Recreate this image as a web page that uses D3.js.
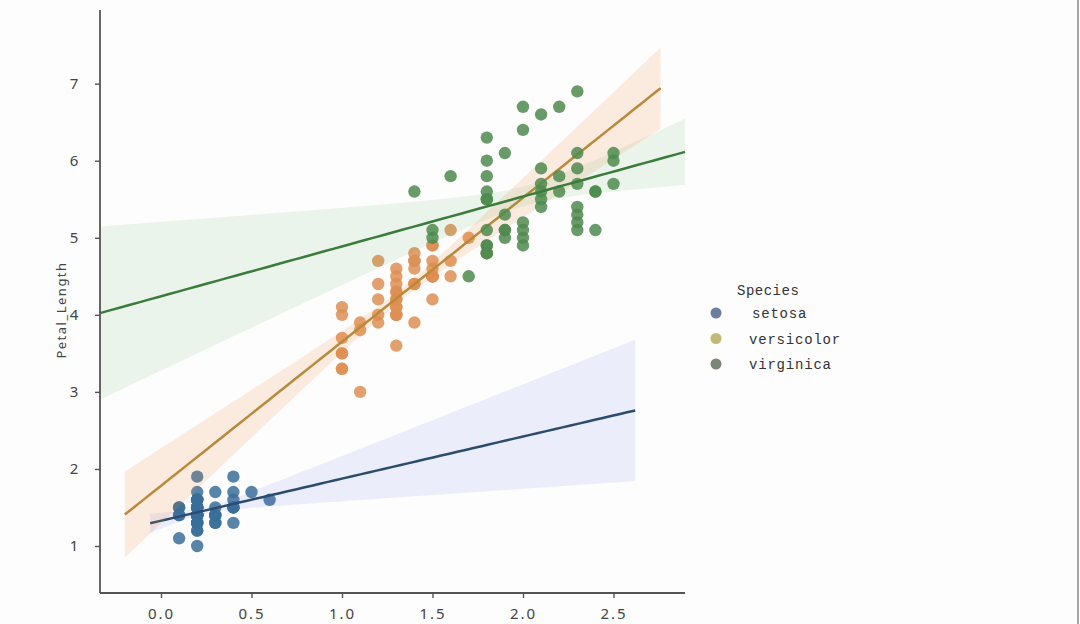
<!DOCTYPE html>
<html>
<head>
  <meta charset="utf-8">
  <title>Petal_Length vs Petal_Width by Species</title>
  <style>
    body { margin: 0; background: #fdfdfd; }
    svg { display: block; }
    .tick text { fill: #444; }
  </style>
</head>
<body>
<script src="https://cdn.jsdelivr.net/npm/d3@7"></script>
<script>
// iris petal measurements, one pair of arrays per species
var species = ["setosa", "versicolor", "virginica"];

var setosaWidth  = [0.2,0.2,0.2,0.2,0.2,0.4,0.3,0.2,0.2,0.1,0.2,0.2,0.1,0.1,0.2,0.4,0.4,0.3,0.3,0.3,
                    0.2,0.4,0.2,0.5,0.2,0.2,0.4,0.2,0.2,0.2,0.2,0.4,0.1,0.2,0.2,0.2,0.2,0.1,0.2,0.2,
                    0.3,0.3,0.2,0.6,0.4,0.3,0.2,0.2,0.2,0.2];
var setosaLength = [1.4,1.4,1.3,1.5,1.4,1.7,1.4,1.5,1.4,1.5,1.5,1.6,1.4,1.1,1.2,1.5,1.3,1.4,1.7,1.5,
                    1.7,1.5,1.0,1.7,1.9,1.6,1.6,1.5,1.4,1.6,1.6,1.5,1.5,1.4,1.5,1.2,1.3,1.4,1.3,1.5,
                    1.3,1.3,1.3,1.6,1.9,1.4,1.6,1.4,1.5,1.4];

var versicolorWidth  = [1.4,1.5,1.5,1.3,1.5,1.3,1.6,1.0,1.3,1.4,1.0,1.5,1.0,1.4,1.3,1.4,1.5,1.0,1.5,1.1,
                        1.8,1.3,1.5,1.2,1.3,1.4,1.4,1.7,1.5,1.0,1.1,1.0,1.2,1.6,1.5,1.6,1.5,1.3,1.3,1.3,
                        1.2,1.4,1.2,1.0,1.3,1.2,1.3,1.3,1.1,1.3];
var versicolorLength = [4.7,4.5,4.9,4.0,4.6,4.5,4.7,3.3,4.6,3.9,3.5,4.2,4.0,4.7,3.6,4.4,4.5,4.1,4.5,3.9,
                        4.8,4.0,4.9,4.7,4.3,4.4,4.8,5.0,4.5,3.5,3.8,3.7,3.9,5.1,4.5,4.5,4.7,4.4,4.1,4.0,
                        4.4,4.6,4.0,3.3,4.2,4.2,4.2,4.3,3.0,4.1];

var virginicaWidth  = [2.5,1.9,2.1,1.8,2.2,2.1,1.7,1.8,1.8,2.5,2.0,1.9,2.1,2.0,2.4,2.3,1.8,2.2,2.3,1.5,
                       2.3,2.0,2.0,1.8,2.1,1.8,1.8,1.8,2.1,1.6,1.9,2.0,2.2,1.5,1.4,2.3,2.4,1.8,1.8,2.1,
                       2.4,2.3,1.9,2.3,2.5,2.3,1.9,2.0,2.3,1.8];
var virginicaLength = [6.0,5.1,5.9,5.6,5.8,6.6,4.5,6.3,5.8,6.1,5.1,5.3,5.5,5.0,5.1,5.3,5.5,6.7,6.9,5.0,
                       5.7,4.9,6.7,4.9,5.7,6.0,4.8,4.9,5.6,5.8,6.1,6.4,5.6,5.1,5.6,6.1,5.6,5.5,4.8,5.4,
                       5.6,5.1,5.1,5.9,5.7,5.2,5.0,5.2,5.4,5.1];

// x span over which each regression line was drawn
var lineSpan = [[-0.06, 2.62], [-0.2, 2.76], [-0.337, 2.895]];

var xTicks = [0.0, 0.5, 1.0, 1.5, 2.0, 2.5];
var yTicks = [1, 2, 3, 4, 5, 6, 7];

var pointColor = ["#3a6f98", "#dd8f55", "#4f8a4f"];
var lineColor  = ["#2c4c6c", "#b88a3c", "#3b7b3b"];
var bandColor  = ["#5060e0", "#f08030", "#40a040"];
var bandAlpha  = [0.1, 0.15, 0.095];
var legendColor = ["#6b7ea0", "#c0b874", "#7a8676"];

var widths  = [setosaWidth, versicolorWidth, virginicaWidth];
var lengths = [setosaLength, versicolorLength, virginicaLength];

var width = 1080, height = 624;

var svg = d3.select("body").append("svg")
  .attr("width", width)
  .attr("height", height);

var x = d3.scaleLinear().domain([-0.337, 2.895]).range([100, 685]);
var y = d3.scaleLinear().domain([0.39, 7.93]).range([593, 12]);

// least squares fit plus an approximate confidence band
function fit(xs, ys) {
  var n = xs.length;
  var mx = d3.mean(xs), my = d3.mean(ys);
  var sxx = d3.sum(xs, function (d) { return (d - mx) * (d - mx); });
  var sxy = d3.sum(xs, function (d, i) { return (d - mx) * (ys[i] - my); });
  var b = sxy / sxx, a = my - b * mx;
  var sse = d3.sum(xs, function (d, i) { var r = ys[i] - (a + b * d); return r * r; });
  var s = Math.sqrt(sse / (n - 2));
  return function (v) {
    var yh = a + b * v;
    var half = 1.72 * s * Math.sqrt(1 / n + (v - mx) * (v - mx) / sxx);
    return {x: v, y: yh, lo: yh - half, hi: yh + half};
  };
}

var plot = svg.append("g");

species.forEach(function (sp, i) {
  var pts = widths[i].map(function (w, j) { return {w: w, l: lengths[i][j]}; });

  plot.append("g").selectAll("circle")
    .data(pts)
    .enter()
    .append("circle")
    .attr("cx", function (d) { return x(d.w); })
    .attr("cy", function (d) { return y(d.l); })
    .attr("r", 6.2)
    .attr("fill", pointColor[i])
    .attr("fill-opacity", 0.85);

  var f = fit(widths[i], lengths[i]);
  var samples = d3.range(0, 61).map(function (k) {
    return f(lineSpan[i][0] + (lineSpan[i][1] - lineSpan[i][0]) * k / 60);
  });

  plot.append("path")
    .datum(samples)
    .attr("fill", bandColor[i])
    .attr("fill-opacity", bandAlpha[i])
    .attr("d", d3.area()
      .x(function (d) { return x(d.x); })
      .y0(function (d) { return y(d.lo); })
      .y1(function (d) { return y(d.hi); }));

  plot.append("path")
    .datum(samples)
    .attr("fill", "none")
    .attr("stroke", lineColor[i])
    .attr("stroke-width", 2.5)
    .attr("d", d3.line()
      .x(function (d) { return x(d.x); })
      .y(function (d) { return y(d.y); }));
});

// axes
var xAxis = d3.axisBottom(x).tickValues(xTicks).tickFormat(d3.format(".1f")).tickSize(5).tickPadding(10);
var yAxis = d3.axisLeft(y).tickValues(yTicks).tickFormat(d3.format("d")).tickSize(5).tickPadding(22);

var gx = svg.append("g")
  .attr("transform", "translate(0,593)")
  .call(xAxis);
gx.select(".domain").attr("d", "M100,0H685");

var gy = svg.append("g")
  .attr("transform", "translate(100,0)")
  .call(yAxis);
gy.select(".domain").attr("d", "M0,10V593");

svg.selectAll(".domain").attr("stroke", "#555").attr("stroke-width", 1.8);
svg.selectAll(".tick line").attr("stroke", "#555").attr("stroke-width", 1.4);
svg.selectAll(".tick text")
  .attr("font-family", "Noto Sans, sans-serif")
  .attr("font-size", 15)
  .attr("letter-spacing", 2);
gy.selectAll(".tick text").attr("text-anchor", "middle").attr("dx", 2);

svg.append("text")
  .attr("transform", "translate(66,310) rotate(-90)")
  .attr("text-anchor", "middle")
  .attr("font-family", "Noto Sans, sans-serif")
  .attr("font-size", 13)
  .attr("letter-spacing", 1.5)
  .attr("fill", "#444")
  .text("Petal_Length");

// legend
var legend = svg.append("g")
  .attr("font-family", "Liberation Mono, monospace")
  .attr("font-size", 14)
  .attr("fill", "#333");

legend.append("text")
  .attr("x", 737)
  .attr("y", 295)
  .attr("letter-spacing", 0.5)
  .text("Species");

species.forEach(function (sp, i) {
  legend.append("circle")
    .attr("cx", 716)
    .attr("cy", 313 + i * 25.5)
    .attr("r", 5.5)
    .attr("fill", legendColor[i]);
  legend.append("text")
    .attr("x", i == 0 ? 752 : 749)
    .attr("y", 318 + i * 25.5)
    .attr("letter-spacing", 0.8)
    .text(sp);
});

// frame edge on the right
svg.append("line")
  .attr("x1", 1078).attr("x2", 1078)
  .attr("y1", 0).attr("y2", height)
  .attr("stroke", "#888")
  .attr("stroke-width", 1.5);
</script>
</body>
</html>
